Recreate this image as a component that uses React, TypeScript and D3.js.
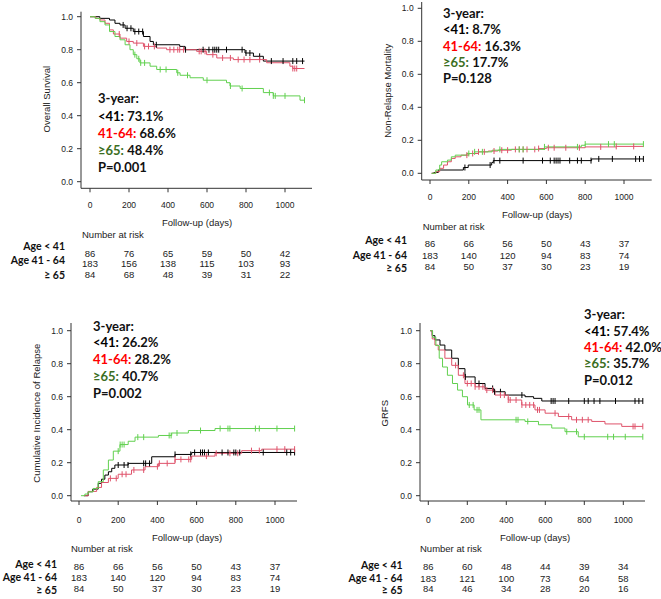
import React from 'react';
import * as d3 from 'd3';

type Pt = [number, number];

// ---------- DATA ----------
const groupColors = ['#000000', '#DF536B', '#61D04F'];
const ageLabels = ['Age < 41', 'Age 41 - 64', '≥ 65'];
const riskTimes = [0, 200, 400, 600, 800, 1000];
const xTicks = [0, 200, 400, 600, 800, 1000];
const yTicks = [0, 0.2, 0.4, 0.6, 0.8, 1.0];

// Overall survival
const osBlack: Pt[] = [[0, 1], [50, 0.99], [100, 0.98], [128, 0.96], [154, 0.95], [180, 0.93], [222, 0.91], [274, 0.88], [308, 0.85], [325, 0.83], [460, 0.82], [487, 0.8], [795, 0.78], [838, 0.76], [889, 0.731]];
const osRed: Pt[] = [[0, 1], [30, 0.99], [51, 0.98], [77, 0.96], [100, 0.92], [120, 0.895], [154, 0.87], [188, 0.85], [222, 0.84], [274, 0.82], [342, 0.81], [393, 0.8], [547, 0.79], [598, 0.77], [650, 0.75], [735, 0.74], [906, 0.721], [1025, 0.7], [1040, 0.686]];
const osGreen: Pt[] = [[0, 1], [26, 0.99], [51, 0.97], [77, 0.95], [100, 0.91], [128, 0.88], [154, 0.86], [180, 0.83], [205, 0.8], [222, 0.77], [240, 0.745], [256, 0.72], [308, 0.7], [342, 0.68], [445, 0.66], [462, 0.645], [513, 0.63], [581, 0.615], [700, 0.6], [718, 0.58], [770, 0.565], [889, 0.54], [940, 0.52], [1077, 0.494]];
const osBlackCens = [170, 190, 210, 230, 250, 270, 340, 490, 580, 610, 630, 640, 650, 660, 700, 780, 800, 820, 870, 930, 990, 1040, 1060, 1090];
const osRedCens = [150, 200, 240, 280, 300, 330, 410, 430, 450, 460, 480, 560, 570, 590, 630, 680, 720, 760, 790, 820, 870, 1040, 1050, 1060];
const osGreenCens = [230, 250, 260, 280, 360, 390, 450, 500, 600, 720, 780, 920, 940, 950, 1000, 1100];

// Non-relapse mortality
const nrmBlack: Pt[] = [[9, 0], [20, 0.005], [43, 0.02], [172, 0.035], [197, 0.05], [318, 0.065], [326, 0.077], [833, 0.087]];
const nrmRed: Pt[] = [[9, 0], [30, 0.01], [50, 0.03], [70, 0.05], [90, 0.07], [110, 0.09], [130, 0.1], [160, 0.11], [200, 0.12], [250, 0.13], [300, 0.135], [350, 0.14], [420, 0.145], [560, 0.15], [600, 0.155], [800, 0.16], [960, 0.163]];
const nrmGreen: Pt[] = [[9, 0], [30, 0.02], [50, 0.05], [60, 0.07], [90, 0.08], [110, 0.1], [130, 0.11], [190, 0.12], [230, 0.13], [320, 0.14], [360, 0.145], [590, 0.16], [780, 0.17], [800, 0.177]];
const nrmBlackCens = [180, 310, 330, 360, 480, 580, 620, 640, 650, 660, 670, 720, 760, 780, 830, 870, 940, 1060, 1080, 1100];
const nrmRedCens = [190, 220, 250, 280, 330, 370, 400, 440, 460, 480, 500, 540, 560, 610, 640, 700, 770, 880, 960, 1050];
const nrmGreenCens = [200, 230, 270, 360, 460, 480, 590, 760, 800, 920, 950, 1100];

// Cumulative incidence of relapse
const cirBlack: Pt[] = [[25, 0], [47, 0.024], [70, 0.04], [98, 0.075], [115, 0.1], [132, 0.125], [150, 0.145], [167, 0.166], [183, 0.186], [251, 0.196], [371, 0.236], [490, 0.25], [575, 0.262]];
const cirRed: Pt[] = [[25, 0], [47, 0.026], [90, 0.05], [115, 0.08], [150, 0.105], [200, 0.13], [268, 0.156], [337, 0.176], [405, 0.196], [490, 0.22], [575, 0.24], [694, 0.257], [830, 0.273], [932, 0.282]];
const cirGreen: Pt[] = [[10, 0], [30, 0.01], [47, 0.024], [73, 0.044], [98, 0.085], [124, 0.156], [150, 0.216], [175, 0.27], [209, 0.31], [251, 0.33], [286, 0.355], [405, 0.365], [473, 0.38], [558, 0.395], [694, 0.407]];
const cirBlackCens = [200, 230, 250, 330, 340, 360, 490, 570, 590, 620, 630, 640, 660, 730, 760, 790, 800, 820, 940, 1060, 1080, 1100];
const cirRedCens = [160, 190, 220, 240, 280, 330, 400, 410, 450, 490, 520, 560, 570, 650, 700, 770, 810, 880, 920, 1010, 1050, 1100];
const cirGreenCens = [200, 210, 220, 230, 300, 330, 460, 470, 500, 620, 720, 760, 770, 900, 920, 1010, 1100];

// GRFS
const grfsBlack: Pt[] = [[10, 1], [20, 0.97], [34, 0.944], [60, 0.913], [85, 0.883], [120, 0.833], [154, 0.77], [188, 0.72], [240, 0.68], [291, 0.65], [334, 0.63], [394, 0.61], [496, 0.6], [540, 0.59], [582, 0.574]];
const grfsRed: Pt[] = [[10, 1], [20, 0.95], [34, 0.913], [51, 0.883], [85, 0.833], [120, 0.79], [154, 0.73], [188, 0.68], [240, 0.66], [291, 0.64], [342, 0.61], [410, 0.58], [479, 0.55], [547, 0.52], [599, 0.5], [667, 0.48], [735, 0.46], [838, 0.45], [906, 0.435], [992, 0.42]];
const grfsGreen: Pt[] = [[10, 1], [22, 0.96], [39, 0.91], [56, 0.833], [73, 0.78], [98, 0.73], [124, 0.68], [150, 0.64], [175, 0.6], [201, 0.55], [235, 0.52], [270, 0.46], [496, 0.45], [565, 0.43], [633, 0.41], [701, 0.388], [769, 0.357]];
const grfsBlackCens = [190, 260, 330, 340, 370, 480, 630, 640, 650, 720, 800, 820, 850, 880, 960, 1060, 1080, 1100];
const grfsRedCens = [140, 180, 200, 220, 240, 260, 280, 300, 330, 370, 390, 410, 420, 450, 480, 500, 520, 540, 560, 570, 650, 720, 760, 790, 820, 1050, 1060, 1100];
const grfsGreenCens = [210, 230, 250, 260, 450, 460, 510, 710, 760, 800, 920, 950, 1010, 1100];

const osRisk = [[86, 76, 65, 59, 50, 42], [183, 156, 138, 115, 103, 93], [84, 68, 48, 39, 31, 22]];
const nrmRisk = [[86, 66, 56, 50, 43, 37], [183, 140, 120, 94, 83, 74], [84, 50, 37, 30, 23, 19]];
const cirRisk = [[86, 66, 56, 50, 43, 37], [183, 140, 120, 94, 83, 74], [84, 50, 37, 30, 23, 19]];
const grfsRisk = [[86, 60, 48, 44, 39, 34], [183, 121, 100, 73, 64, 58], [84, 46, 34, 28, 20, 16]];

const osStats = ['73.1%', '68.6%', '48.4%', 'P=0.001'];
const nrmStats = ['8.7%', '16.3%', '17.7%', 'P=0.128'];
const cirStats = ['26.2%', '28.2%', '40.7%', 'P=0.002'];
const grfsStats = ['57.4%', '42.0%', '35.7%', 'P=0.012'];

// ---------- LAYOUT ----------
interface Panel {
  yLabel: string;
  curves: Pt[][];
  cens: number[][];
  risk: number[][];
  stats: string[];
  x0: number; x1000: number; y0: number; y1: number;
  axX: number; axY: number; xEnd: number; yTop: number;
  yLabX: number; tickLabY: number;
  xLab: [number, number]; nar: [number, number];
  labRight: number; labY: number[]; numY: number[];
  annX: number; annY: number[];
}

const panels: Panel[] = [
  {
    yLabel: 'Overall Survival', curves: [osBlack, osRed, osGreen], cens: [osBlackCens, osRedCens, osGreenCens], risk: osRisk, stats: osStats,
    x0: 90, x1000: 285, y0: 181.7, y1: 16.7, axX: 81, axY: 188.3, xEnd: 312, yTop: 11.7,
    yLabX: 47, tickLabY: 205, xLab: [197, 223], nar: [82, 235],
    labRight: 65, labY: [246, 260.7, 275], numY: [253.3, 264, 275],
    annX: 98, annY: [103.3, 120.7, 137.7, 155, 172.3],
  },
  {
    yLabel: 'Non-Relapse Mortality', curves: [nrmBlack, nrmRed, nrmGreen], cens: [nrmBlackCens, nrmRedCens, nrmGreenCens], risk: nrmRisk, stats: nrmStats,
    x0: 430, x1000: 624, y0: 173.3, y1: 8.3, axX: 421.7, axY: 180, xEnd: 651.7, yTop: 2,
    yLabX: 388, tickLabY: 197, xLab: [537, 215], nar: [422.7, 227],
    labRight: 407, labY: [240.5, 255, 268], numY: [244, 255.7, 266.7],
    annX: 443, annY: [18.3, 34.3, 50.7, 66.7, 83.3],
  },
  {
    yLabel: 'Cumulative Incidence of Relapse', curves: [cirBlack, cirRed, cirGreen], cens: [cirBlackCens, cirRedCens, cirGreenCens], risk: cirRisk, stats: cirStats,
    x0: 79, x1000: 275, y0: 495.7, y1: 330.7, axX: 71, axY: 501, xEnd: 297, yTop: 323,
    yLabX: 37, tickLabY: 520, xLab: [187, 538], nar: [71, 549],
    labRight: 57, labY: [564, 577.7, 590.7], numY: [566.7, 578, 589],
    annX: 93, annY: [330.7, 346.7, 364.3, 380.7, 398],
  },
  {
    yLabel: 'GRFS', curves: [grfsBlack, grfsRed, grfsGreen], cens: [grfsBlackCens, grfsRedCens, grfsGreenCens], risk: grfsRisk, stats: grfsStats,
    x0: 428.3, x1000: 623.3, y0: 495.7, y1: 330.7, axX: 420, axY: 501, xEnd: 645, yTop: 323,
    yLabX: 385, tickLabY: 520, xLab: [535, 538], nar: [420, 549],
    labRight: 402.7, labY: [565, 578.3, 590], numY: [566.7, 578.3, 589],
    annX: 584, annY: [319.3, 335.7, 352.3, 368.3, 385],
  },
];

const axisFont = '"Liberation Sans", Arial, sans-serif';
const boldFont = 'Lato, "Open Sans", sans-serif';
const END_T = 1100;

function valueAt(steps: Pt[], t: number): number {
  let v = steps[0][1];
  for (const [st, sv] of steps) {
    if (st <= t) v = sv; else break;
  }
  return v;
}

function PanelView({ p }: { p: Panel }) {
  const x = d3.scaleLinear().domain([0, 1000]).range([p.x0, p.x1000]);
  const y = d3.scaleLinear().domain([0, 1]).range([p.y0, p.y1]);
  const line = d3.line<Pt>().x(d => x(d[0])).y(d => y(d[1])).curve(d3.curveStepAfter);
  const prefixes = ['<41: ', '41-64: ', '≥65: '];
  const prefixColors = ['#000000', '#FF0000', '#3B6E22'];
  return (
    <g>
      {/* axes */}
      <line x1={p.axX} x2={p.axX} y1={p.yTop} y2={p.axY} stroke="#333" strokeWidth={1} />
      <line x1={p.axX} x2={p.xEnd} y1={p.axY} y2={p.axY} stroke="#333" strokeWidth={1} />
      {yTicks.map(t => (
        <g key={'y' + t}>
          <line x1={p.axX - 4} x2={p.axX} y1={y(t)} y2={y(t)} stroke="#333" />
          <text x={p.axX - 8} y={y(t)} dy="0.35em" textAnchor="end" fontSize={8.5} fontFamily={axisFont} fill="#222">{t.toFixed(1)}</text>
        </g>
      ))}
      {xTicks.map(t => (
        <g key={'x' + t}>
          <line x1={x(t)} x2={x(t)} y1={p.axY} y2={p.axY + 4} stroke="#333" />
          <text x={x(t)} y={p.tickLabY} dy="0.35em" textAnchor="middle" fontSize={8.5} fontFamily={axisFont} fill="#222">{t}</text>
        </g>
      ))}
      <text transform={`translate(${p.yLabX},${(p.y0 + p.y1) / 2}) rotate(-90)`} textAnchor="middle" dy="0.35em" fontSize={9.5} fontFamily={axisFont} fill="#222">{p.yLabel}</text>
      <text x={p.xLab[0]} y={p.xLab[1]} dy="0.35em" textAnchor="middle" fontSize={9.5} fontFamily={axisFont} fill="#222">Follow-up (days)</text>
      <text x={p.nar[0]} y={p.nar[1]} dy="0.35em" fontSize={9.5} fontFamily={axisFont} fill="#222">Number at risk</text>
      {/* curves */}
      {p.curves.map((c, i) => {
        const pts: Pt[] = [...c, [END_T, c[c.length - 1][1]]];
        return <path key={'c' + i} d={line(pts) || ''} fill="none" stroke={groupColors[i]} strokeWidth={1} />;
      })}
      {p.cens.map((cs, i) => cs.map((t, j) => {
        const v = valueAt(p.curves[i], t);
        return <line key={'m' + i + '-' + j} x1={x(t)} x2={x(t)} y1={y(v) - 3} y2={y(v) + 3} stroke={groupColors[i]} strokeWidth={1} />;
      }))}
      {/* annotation */}
      <text x={p.annX} y={p.annY[0]} fontSize={13} fontWeight="bold" fontFamily={boldFont} fill="#111">3-year:</text>
      {prefixes.map((pre, i) => (
        <text key={'a' + i} x={p.annX} y={p.annY[i + 1]} fontSize={13} fontWeight="bold" fontFamily={boldFont} fill="#111">
          <tspan fill={prefixColors[i]}>{pre}</tspan>
          <tspan>{p.stats[i]}</tspan>
        </text>
      ))}
      <text x={p.annX} y={p.annY[4]} fontSize={13} fontWeight="bold" fontFamily={boldFont} fill="#111">{p.stats[3]}</text>
      {/* risk table */}
      {ageLabels.map((lab, i) => (
        <text key={'l' + i} x={p.labRight} y={p.labY[i]} dy="0.35em" textAnchor="end" fontSize={10.5} fontWeight="bold" fontFamily={boldFont} fill="#111">{lab}</text>
      ))}
      {p.risk.map((row, i) => row.map((n, j) => (
        <text key={'n' + i + '-' + j} x={x(riskTimes[j])} y={p.numY[i]} dy="0.35em" textAnchor="middle" fontSize={9.5} fontFamily={axisFont} fill="#222">{n}</text>
      )))}
    </g>
  );
}

export default function App() {
  return (
    <svg width={661} height={599} style={{ position: 'absolute', left: 0, top: 0, background: '#fff' }}>
      <rect width={661} height={599} fill="#fff" />
      {panels.map((p, i) => <PanelView key={i} p={p} />)}
    </svg>
  );
}
